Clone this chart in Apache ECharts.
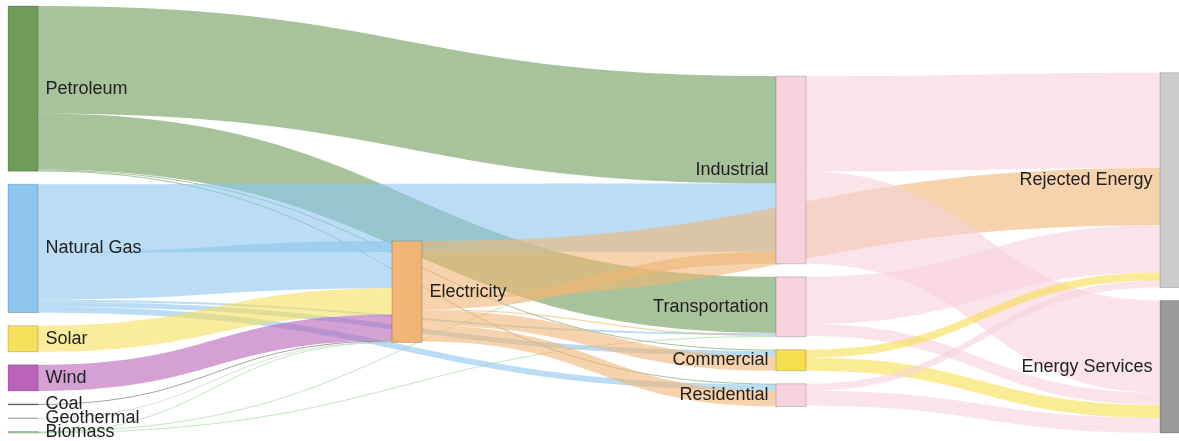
<!DOCTYPE html>
<html>
<head>
<meta charset="utf-8">
<title>Energy flow</title>
<script src="https://cdn.jsdelivr.net/npm/echarts@6/dist/echarts.min.js"></script>
<style>
  html, body { margin: 0; padding: 0; background: #fff; }
  #chart { width: 1179px; height: 441px; }
</style>
</head>
<body>
<div id="chart"></div>
<script>
// nodes in order of first appearance
const nodeNames = [
  "Petroleum", "Natural Gas", "Solar", "Wind", "Biomass", "Coal", "Geothermal",
  "Electricity",
  "Industrial", "Transportation", "Commercial", "Residential",
  "Rejected Energy", "Energy Services",
]
const nodeColors = [
  "#6e9b5a", "#8cc6ef", "#f6e05c", "#b962b9", "#9fd39a", "#666666", "#c8c8c8",
  "#f0b574",
  "#f7d2dc", "#f7d2dc", "#f6de4e", "#f7d2dc",
  "#cccccc", "#9a9a9a",
]

// flows (arbitrary units)
const linkSources = [
  "Petroleum", "Petroleum", "Petroleum", "Petroleum",
  "Natural Gas", "Natural Gas", "Natural Gas", "Natural Gas", "Natural Gas",
  "Solar", "Wind",
  "Biomass", "Biomass", "Biomass",
  "Coal",
  "Geothermal",
  "Electricity", "Electricity", "Electricity", "Electricity", "Electricity",
  "Industrial", "Industrial",
  "Transportation", "Transportation",
  "Commercial", "Commercial",
  "Residential", "Residential",
]
const linkTargets = [
  "Industrial", "Transportation", "Commercial", "Residential",
  "Industrial", "Transportation", "Commercial", "Electricity", "Residential",
  "Electricity", "Electricity",
  "Industrial", "Transportation", "Electricity",
  "Electricity",
  "Electricity",
  "Industrial", "Rejected Energy", "Transportation", "Commercial", "Residential",
  "Rejected Energy", "Energy Services",
  "Rejected Energy", "Energy Services",
  "Rejected Energy", "Energy Services",
  "Rejected Energy", "Energy Services",
]
const linkValues = [
  107, 56, 1, 0.6,
  68, 2, 5, 47, 6,
  26, 26,
  0.6, 0.6, 0.4,
  1,
  0.5,
  11, 57, 1, 15, 16,
  95, 92,
  47, 12,
  8, 13,
  7, 15,
]

const chart = echarts.init(document.getElementById("chart"))

const nodes = nodeNames.map((name, i) => ({
  name: name,
  itemStyle: {color: nodeColors[i]},
}))
const links = linkValues.map((v, i) => ({
  source: linkSources[i],
  target: linkTargets[i],
  value: v,
}))

chart.setOption({
  animation: false,
  backgroundColor: "#ffffff",
  series: [
    {
      type: "sankey",
      left: 8,
      top: 6,
      right: -11,
      bottom: 8,
      nodeWidth: 30,
      nodeGap: 13,
      layoutIterations: 32,
      draggable: false,
      emphasis: {disabled: true},
      data: nodes,
      links: links,
      itemStyle: {
        borderWidth: 1,
        borderColor: "rgba(0,0,0,0.18)",
      },
      lineStyle: {
        color: "source",
        opacity: 0.6,
        curveness: 0.5,
      },
      label: {
        position: "right",
        distance: 7,
        color: "#222222",
        fontFamily: "Liberation Sans, Arial, sans-serif",
        fontSize: 18,
      },
      levels: [
        {depth: 0, label: {position: "right"}},
        {depth: 1, label: {position: "right"}},
        {depth: 2, label: {position: "left"}},
        {depth: 3, label: {position: "left"}},
      ],
    },
  ],
})
</script>
</body>
</html>
